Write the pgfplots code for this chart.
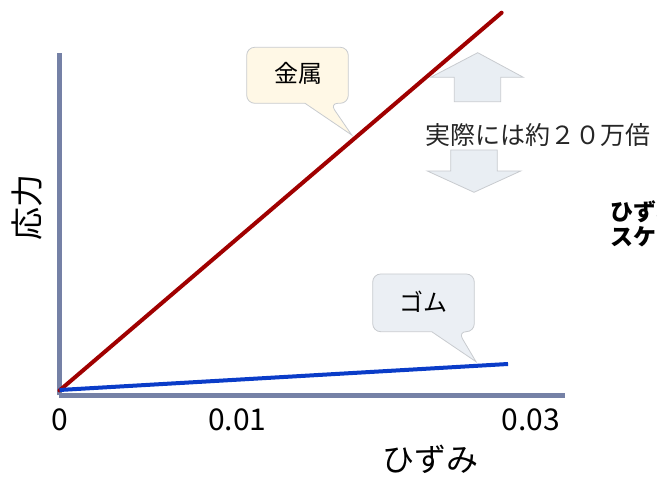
\documentclass[border=0pt]{standalone}
\usepackage{fontspec}
\setmainfont{Noto Sans CJK JP}
\usepackage{pgfplots}
\pgfplotsset{compat=1.18}
\definecolor{axiscol}{HTML}{7581A6}
\definecolor{metalred}{HTML}{A00000}
\definecolor{rubberblue}{HTML}{0A3CC8}
\definecolor{creamfill}{HTML}{FFF8E6}
\definecolor{grayfill}{HTML}{EBEFF4}
\definecolor{arrowfill}{HTML}{E9EEF3}
\definecolor{edgegray}{HTML}{C8CBCF}
\begin{document}
\begin{tikzpicture}[x=1pt,y=1pt]
% arrows (behind the plot lines)
\draw[fill=arrowfill, draw=edgegray, line width=0.8pt]
  (477.7,428.3) -- (523.3,403.7) -- (500.7,403.7) -- (500.7,379.3)
  -- (454.3,379.3) -- (454.3,403.7) -- (430.7,403.7) -- cycle;
\draw[fill=arrowfill, draw=edgegray, line width=0.8pt]
  (474,288.7) -- (520.7,310) -- (497.3,310) -- (497.3,331)
  -- (450.7,331) -- (450.7,310) -- (427.3,310) -- cycle;
\node[font=\fontsize{25}{30}\selectfont, text=black!85, inner sep=0pt] at (538,345.5) {実際には約２０万倍};

\coordinate (O) at (59.5,85.5);
\begin{axis}[
  at={(O)}, anchor=origin,
  scale only axis, width=505.5pt, height=342.5pt,
  xmin=0, xmax=0.0284, ymin=0, ymax=342.5,
  clip=false,
  axis lines*=left,
  axis line style={line width=5.5pt, color=axiscol, -},
  xtick={0,0.01,0.02649}, xticklabels={0,0.01,0.03},
  scaled x ticks=false,
  ytick=\empty,
  major tick length=0pt,
  xticklabel style={font=\fontsize{30}{36}\selectfont, anchor=center, yshift=-24pt},
  xlabel={ひずみ},
  xlabel style={font=\fontsize{32}{38}\selectfont, at={(axis description cs:0.733,-0.185)}, anchor=center},
  ylabel={応力},
  ylabel style={font=\fontsize{33}{40}\selectfont, at={(axis description cs:-0.0643,0.55)}, anchor=center},
]
\addplot[color=metalred, line width=4pt, line cap=round] coordinates {(0,5) (0.02484,382.8)};
\addplot[color=rubberblue, line width=4pt] coordinates {(0,5.5) (0.0252,31.5)};
\end{axis}

% callout: metal
\draw[fill=creamfill, draw=edgegray, line width=0.8pt, rounded corners=8pt]
  (297,433.7) -- (348.3,433.7) -- (348.3,377.7) -- (330,377.7) [sharp corners]
  -- (351.7,346) -- (305,377.7) [rounded corners=8pt] -- (246.7,377.7) -- (246.7,433.7) -- cycle;
\node[font=\fontsize{24}{29}\selectfont, inner sep=0pt] at (298,408) {金属};

% callout: rubber
\draw[fill=grayfill, draw=edgegray, line width=0.8pt, rounded corners=8pt]
  (423,207) -- (474.3,207) -- (474.3,149.3) -- (458.3,149.3) [sharp corners]
  -- (476,119.3) -- (431.7,149.3) [rounded corners=8pt] -- (372.7,149.3) -- (372.7,207) -- cycle;
\node[font=\fontsize{24}{29}\selectfont, inner sep=0pt] at (423,179) {ゴム};

% cut-off note at the right edge (cut off in the reference as well)
\node[font=\fontsize{23}{27}\selectfont\bfseries, anchor=west, inner sep=0pt] at (610.2,269) {ひずみの};
\node[font=\fontsize{23}{27}\selectfont\bfseries, anchor=west, inner sep=0pt] at (610.2,244) {スケール};

\pgfresetboundingbox
\path[use as bounding box] (0,0) rectangle (657,481);
\end{tikzpicture}
\end{document}
